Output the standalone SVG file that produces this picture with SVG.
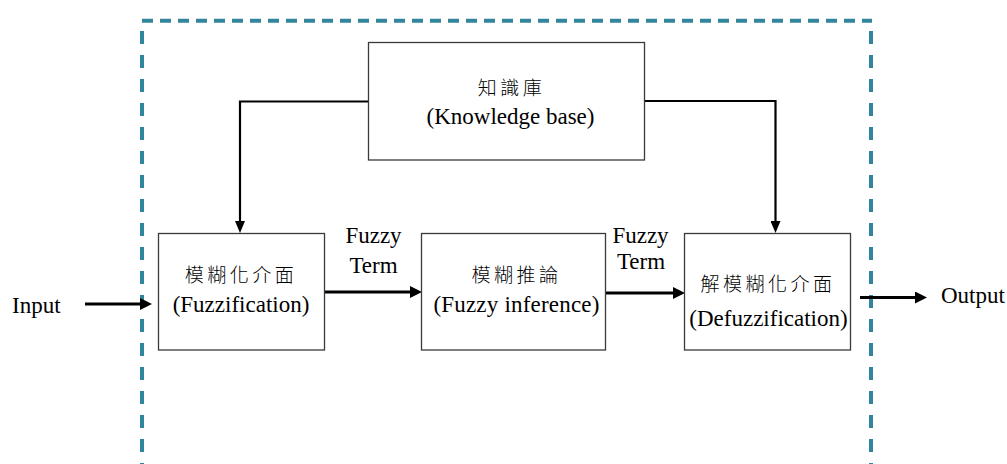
<svg xmlns="http://www.w3.org/2000/svg" width="1007" height="464" viewBox="0 0 1007 464">
<style>
.frame{fill:none;stroke:#31859C;stroke-width:4}
.box{fill:#fff;stroke:#3a3a3a;stroke-width:1.3}
.en{font-family:"Liberation Serif","Times New Roman",serif;font-size:23px;fill:#000}
.cjk{font-family:"Noto Sans CJK TC","Noto Sans CJK SC",sans-serif;font-size:19px;font-weight:300;fill:#000;letter-spacing:3.5px}
.thick{fill:none;stroke:#000;stroke-width:3}
.thin{fill:none;stroke:#000;stroke-width:2.2}
</style>
<defs>
<marker id="ah" markerUnits="userSpaceOnUse" markerWidth="13" markerHeight="12" refX="4" refY="6" orient="auto">
<path d="M0,0 L12,6 L0,12 Z" fill="#000"/>
</marker>
<marker id="ahs" markerUnits="userSpaceOnUse" markerWidth="13" markerHeight="10" refX="4" refY="5" orient="auto">
<path d="M0,0 L12,5 L0,10 Z" fill="#000"/>
</marker>
</defs>
<rect width="1007" height="464" fill="#fff"/>
<g id="frame">
<line class="frame" x1="142" y1="20.7" x2="872" y2="20.7" stroke-dasharray="11 7"/>
<line class="frame" x1="142" y1="31" x2="142" y2="470" stroke-dasharray="13 11"/>
<line class="frame" x1="871" y1="31" x2="871" y2="470" stroke-dasharray="13 11"/>
</g>
<g id="connectors">
<polyline class="thin" points="368.5,101.5 240,101.5 240,225" marker-end="url(#ahs)"/>
<polyline class="thin" points="644.5,101 775.5,101 775.5,225" marker-end="url(#ahs)"/>
<line class="thick" x1="85" y1="304" x2="144" y2="304" marker-end="url(#ah)"/>
<line class="thick" x1="324.5" y1="292" x2="414" y2="292" marker-end="url(#ah)"/>
<line class="thick" x1="605.5" y1="293" x2="677" y2="293" marker-end="url(#ah)"/>
<line class="thick" x1="860" y1="297.5" x2="919" y2="297.5" marker-end="url(#ah)"/>
<text class="en" x="373.5" y="243" text-anchor="middle">Fuzzy</text>
<text class="en" x="373.5" y="273" text-anchor="middle">Term</text>
<text class="en" x="640.5" y="243" text-anchor="middle">Fuzzy</text>
<text class="en" x="641" y="269" text-anchor="middle">Term</text>
</g>
<g id="kb">
<rect class="box" x="368.5" y="42.5" width="276" height="117.5"/>
<text class="cjk" x="511.5" y="94.5" text-anchor="middle">知識庫</text>
<text class="en" x="510.5" y="124" text-anchor="middle">(Knowledge base)</text>
</g>
<g id="fuzzification">
<rect class="box" x="158.5" y="233.5" width="166" height="116.5"/>
<text class="cjk" x="241" y="282" text-anchor="middle">模糊化介面</text>
<text class="en" x="241" y="311.5" text-anchor="middle">(Fuzzification)</text>
</g>
<g id="inference">
<rect class="box" x="421.5" y="233.5" width="184" height="116.5"/>
<text class="cjk" x="516.5" y="282" text-anchor="middle">模糊推論</text>
<text class="en" x="516.5" y="312" text-anchor="middle" letter-spacing="0.2">(Fuzzy inference)</text>
</g>
<g id="defuzzification">
<rect class="box" x="684.5" y="233.5" width="166" height="116.5"/>
<text class="cjk" x="768" y="290.5" text-anchor="middle">解模糊化介面</text>
<text class="en" x="768.5" y="326" text-anchor="middle">(Defuzzification)</text>
</g>
<g id="input">
<text class="en" x="12" y="313">Input</text>
</g>
<g id="output">
<text class="en" x="941" y="303">Output</text>
</g>
</svg>
